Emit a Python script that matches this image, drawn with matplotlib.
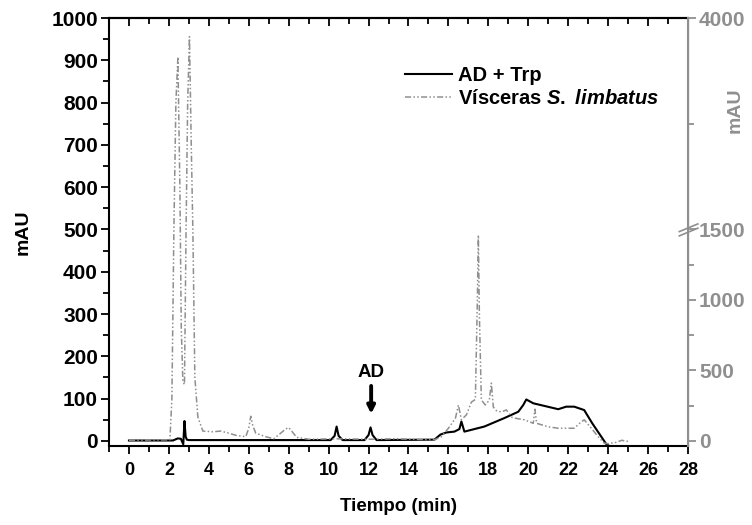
import matplotlib
matplotlib.use("Agg")
import numpy as np
import matplotlib.pyplot as plt
from matplotlib.ticker import MultipleLocator, FixedLocator, NullFormatter

plt.rcParams['font.family'] = ['Liberation Sans', 'DejaVu Sans']
plt.rcParams['font.weight'] = 'bold'
plt.rcParams['mathtext.fontset'] = 'custom'
plt.rcParams['mathtext.it'] = 'Liberation Sans:italic:bold'
plt.rcParams['mathtext.rm'] = 'Liberation Sans:bold'

# AD + Trp trace (left axis, mAU)
t_ad = [0, 2.2, 2.45, 2.6, 2.72, 2.78, 2.84, 2.9, 3.0, 10.1, 10.3, 10.4, 10.5,
        10.7, 11.8, 12.0, 12.1, 12.2, 12.4, 15.3, 15.6, 15.9, 16.3, 16.55, 16.65,
        16.8, 17.8, 18.8, 19.5, 19.75, 19.9, 20.25, 21.5, 21.9, 22.3, 22.8, 23.2,
        23.6, 23.9, 24.0]
y_ad = [1, 1, 6, 5, -8, 47, 10, 3, 2, 2, 12, 34, 12,
        2, 2, 14, 32, 14, 2, 3, 15, 20, 22, 28, 46,
        22, 34, 54, 69, 85, 98, 89, 75, 81, 81, 73, 42,
        14, -7, -10]

# Visceras S. limbatus trace (right axis, mAU)
t_vis = [0, 2.05, 2.15, 2.25, 2.35, 2.45, 2.55, 2.62, 2.7, 2.78, 2.86, 2.94, 3.03,
         3.12, 3.2, 3.3, 3.45, 3.7, 4.2, 4.6, 5.0, 5.35, 5.85, 6.0, 6.1, 6.2, 6.35,
         6.85, 7.25, 7.6, 7.85, 8.0, 8.15, 8.4, 9.0, 10.4, 12.1, 13.3, 15.3, 15.65,
         16.0, 16.35, 16.5, 16.65, 16.9, 17.15, 17.35, 17.45, 17.5, 17.55, 17.65,
         17.85, 18.05, 18.15, 18.25, 18.4, 18.65, 18.9, 19.2, 19.8, 20.25, 20.33,
         20.42, 21.0, 21.5, 22.3, 22.65, 22.8, 23.1, 23.5, 23.8, 24.0, 24.4, 24.7,
         24.9, 25.0]
y_vis = [5, 8, 300, 1500, 3000, 3540, 2000, 800, 420, 400, 1500, 3000, 3780,
         2500, 1500, 450, 170, 70, 65, 70, 55, 40, 30, 90, 175, 110, 55,
         30, 15, 55, 85, 95, 70, 25, 12, 15, 12, 15, 8, 30,
         90, 160, 255, 150, 185, 275, 295, 1000, 1460, 900, 290,
         255, 290, 410, 240, 215, 205, 220, 165, 150, 125, 225,
         125, 100, 90, 90, 135, 150, 100, 30, -15, -20, -10, 5,
         -5, 0]

right_major = [0, 500, 1000, 1500, 4000]
right_minor = [250, 750, 1250, 2750]


# broken right scale: 0-1500 compressed 3x, 1500-4000 compressed 5x
def fwd(v):
    v = np.asarray(v, dtype=float)
    return np.where(v <= 1500, v / 3.0, 500 + (v - 1500) / 5.0)


def inv(u):
    u = np.asarray(u, dtype=float)
    return np.where(u <= 500, u * 3.0, 1500 + (u - 500) * 5.0)


grey = '#8f8f8f'

fig = plt.figure(figsize=(7.52, 5.25), dpi=100)
ax = fig.add_axes([109 / 752, 1 - 446 / 525, 579 / 752, 428 / 525])
ax2 = ax.twinx()
ax2.set_yscale('function', functions=(fwd, inv))

l1, = ax.plot(t_ad, y_ad, color='black', lw=1.5, label='AD + Trp', zorder=3)
l2, = ax2.plot(t_vis, y_vis, color=grey, lw=1.1,
               linestyle=(0, (4, 1.5, 1, 1.5, 1, 1.5)),
               label='Vísceras $S.\\ limbatus$')

ax.set_xlim(-1, 28)
ax.set_ylim(-12, 1000)
ax2.set_ylim(-36, 4000)

ax.xaxis.set_major_locator(MultipleLocator(2))
ax.xaxis.set_minor_locator(MultipleLocator(1))
ax.yaxis.set_major_locator(MultipleLocator(100))
ax.yaxis.set_minor_locator(MultipleLocator(50))
ax.tick_params(axis='x', which='both', direction='out', top=False,
               labelsize=13, width=1.3, pad=6)
ax.tick_params(axis='x', which='major', length=5.5)
ax.tick_params(axis='x', which='minor', length=4)
ax.tick_params(axis='y', which='both', direction='out', labelsize=15,
               width=1.3, pad=2)
ax.tick_params(axis='y', which='major', length=6)
ax.tick_params(axis='y', which='minor', length=4)

# top axis ticks point inward
secx = ax.secondary_xaxis('top')
secx.xaxis.set_major_locator(MultipleLocator(2))
secx.xaxis.set_minor_locator(MultipleLocator(1))
secx.xaxis.set_major_formatter(NullFormatter())
secx.tick_params(which='both', direction='in', width=1.3)
secx.tick_params(which='major', length=6)
secx.tick_params(which='minor', length=4)
secx.spines['top'].set_linewidth(1.5)

ax2.yaxis.set_major_locator(FixedLocator(right_major))
ax2.yaxis.set_minor_locator(FixedLocator(right_minor))
ax2.yaxis.set_minor_formatter(NullFormatter())
ax2.set_yticklabels([str(v) for v in right_major])
ax2.tick_params(axis='y', which='both', colors=grey, labelcolor=grey,
                labelsize=15, width=1.3, pad=2)
ax2.tick_params(axis='y', which='major', length=6)
ax2.tick_params(axis='y', which='minor', length=4)

for s in ['left', 'bottom', 'top']:
    ax.spines[s].set_linewidth(1.5)
ax2.spines['right'].set_color(grey)
ax2.spines['right'].set_linewidth(1.5)
ax2.spines['left'].set_visible(False)
ax2.spines['top'].set_visible(False)
ax2.spines['bottom'].set_visible(False)

ax.set_xlabel('Tiempo (min)', fontsize=13.5, fontweight='bold', labelpad=14)
ax.set_ylabel('mAU', fontsize=14, fontweight='bold', labelpad=14)
fig.text(735 / 752, 1 - 110 / 525, 'mAU', rotation=90, color=grey,
         fontsize=14, fontweight='bold', ha='center', va='center')

# axis break marks on the right spine
yb = (500 + 12) / 1012
for off in (-0.005, 0.005):
    ax.plot([0.985, 1.017], [yb - 0.01 + off, yb + 0.008 + off], color=grey,
            lw=1.2, transform=ax.transAxes, clip_on=False, zorder=5)
ax.plot([1, 1], [yb - 0.004, yb + 0.004], color='white', lw=3,
        transform=ax.transAxes, clip_on=False, zorder=4)

# AD marker
ax.annotate('', xy=(12.13, 64), xytext=(12.13, 130),
            arrowprops=dict(arrowstyle='-|>', lw=2.8, color='black',
                            mutation_scale=11, shrinkA=0, shrinkB=0))
ax.text(12.1, 161, 'AD', ha='center', va='center', fontsize=13.5,
        fontweight='bold')

leg = ax.legend(handles=[l1, l2], loc='upper left', frameon=False,
                bbox_to_anchor=(387 / 752, 1 - 48 / 525),
                bbox_transform=fig.transFigure, fontsize=14.5,
                handlelength=2.35, handletextpad=0.3, labelspacing=0.2)

fig.savefig('out.png', dpi=100)
